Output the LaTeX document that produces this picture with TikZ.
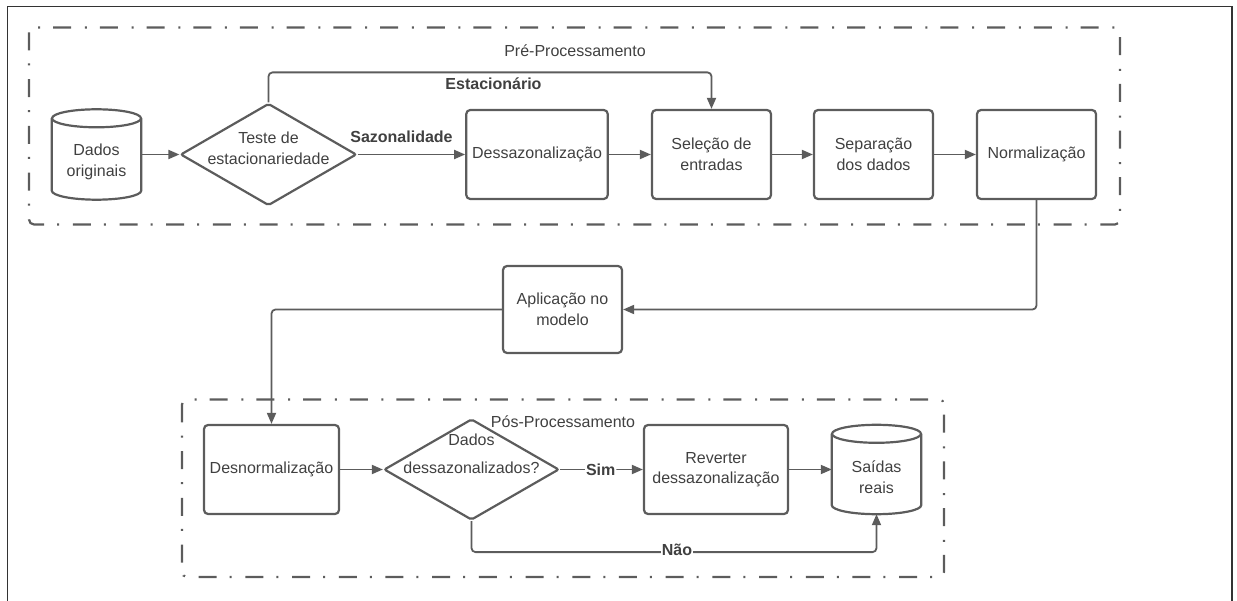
\documentclass[tikz,border=0pt]{standalone}
\usepackage{fontspec}
\setmainfont{Liberation Sans}
\usetikzlibrary{arrows.meta,calc,shapes.geometric}

\definecolor{linegray}{HTML}{5C5C5C}
\definecolor{textgray}{HTML}{404040}
\definecolor{framegray}{HTML}{333333}

\tikzset{
  base/.style={font=\fontsize{16pt}{20.5pt}\selectfont, text=textgray},
  procbox/.style={base, draw=linegray, line width=2.2pt, rounded corners=4pt,
    align=center, inner sep=0pt},
  decision/.style={diamond, draw=linegray, line width=2.2pt, rounded corners=2pt,
    inner sep=0pt},
  holder/.style={rectangle, inner sep=0pt},
  txt/.style={base, align=center, inner sep=0pt},
  boldlbl/.style={font=\fontsize{16pt}{20pt}\selectfont\bfseries, text=textgray,
    inner sep=1.5pt},
  drum/.style={draw=linegray, line width=2.2pt},
  flow/.style={draw=linegray, line width=1.8pt, rounded corners=4pt,
    -{Triangle[length=11pt,width=9pt]}},
  group/.style={draw=linegray, line width=2.2pt, rounded corners=5pt,
    dash pattern=on 18pt off 13pt on 2pt off 13.7pt},
}

% database drum drawn round a rectangular holder node: #1 node, #2 half width
\newcommand\drawdrum[2]{%
  \draw[drum] ($(#1.north west)+(0,9)$) -- ($(#1.south west)+(0,-9)$)
    .. controls +(0,4.97) and +(-#2*0.5523,0) .. (#1.south)
    .. controls +(#2*0.5523,0) and +(0,4.97) .. ($(#1.south east)+(0,-9)$)
    -- ($(#1.north east)+(0,9)$);
  \draw[drum] ($(#1.north)+(0,9)$) ellipse [x radius=#2pt, y radius=9pt];
}

\begin{document}
\begin{tikzpicture}[x=1pt, y=-1pt]
\useasboundingbox (0,0) rectangle (1237,601);

% page frame
\draw[framegray, line width=1.5pt] (7.5,601) -- (7.5,6.5) -- (1232,6.5) -- (1232,601);

% processing groups
\draw[group] (29,27.5) rectangle (1120,224.5);
\node[base, inner sep=0pt] (pretitle) at (575,50.5) {Pré-Processamento};
\draw[group] (182,399.5) rectangle (944,577);

% pre-processing stage
\node[holder, minimum width=89pt, minimum height=90pt] (do) at (96.5,154.5) {};
\drawdrum{do}{44.5}
\node[txt] (dotext) at (96.5,162) {Dados\\originais};

\node[decision, minimum width=176pt, minimum height=102pt] (t) at (268.5,154.5) {};
\node[txt] (ttext) at (268.5,148.5) {Teste de\\estacionariedade};

\node[procbox, minimum width=141.5pt, minimum height=89pt] (d) at (537,154.5) {Dessazonalização};
\node[procbox, minimum width=119pt, minimum height=89pt] (s) at (711.5,154.5) {Seleção de\\entradas};
\node[procbox, minimum width=119pt, minimum height=89pt] (p) at (873.5,154.5) {Separação\\dos dados};
\node[procbox, minimum width=119pt, minimum height=89pt] (n) at (1036.5,154.5) {Normalização};

% model
\node[procbox, minimum width=119pt, minimum height=87pt] (a) at (562.5,309.5) {Aplicação no\\modelo};

% post-processing stage
\node[procbox, minimum width=135pt, minimum height=89pt] (e) at (271.5,469.5) {Desnormalização};
\node[decision, minimum width=175pt, minimum height=101pt] (q) at (471.5,469.5) {};
\node[txt] (qtop) at (471.5,440) {Dados};
\node[txt] (qbot) at (471.5,468) {dessazonalizados?};
\node[base, inner sep=0pt] (posttitle) at (563,422) {Pós-Processamento};
\node[procbox, minimum width=144pt, minimum height=89pt] (r) at (716,469.5) {Reverter\\dessazonalização};
\node[holder, minimum width=89pt, minimum height=89pt] (sa) at (876.5,469.5) {};
\drawdrum{sa}{44.5}
\node[txt] (satext) at (876.5,477) {Saídas\\reais};

% connectors
\draw[flow] (do.east) -- (t.west);
\draw[flow] (t.east) -- (d.west);
\node[boldlbl] (saz) at (401.5,136.5) {Sazonalidade};
\draw[flow] (t.north) -- ++(0,-30) -| (s.north);
\node[boldlbl] (est) at (493.5,84) {Estacionário};
\draw[flow] (d.east) -- (s.west);
\draw[flow] (s.east) -- (p.west);
\draw[flow] (p.east) -- (n.west);
\draw[flow] (n.south) |- (a.east);
\draw[flow] (a.west) -| (e.north);
\draw[flow] (e.east) -- (q.west);
\draw[flow] (q.east) -- node[boldlbl, fill=white, inner sep=1pt, pos=0.49] (sim) {Sim} (r.west);
\draw[flow] (r.east) -- (sa.west);
\draw[flow] (q.south) -- ++(0,31) -| (sa.south);
\node[boldlbl, fill=white, inner sep=1pt] (nao) at (677,550) {Não};
\end{tikzpicture}
\end{document}
